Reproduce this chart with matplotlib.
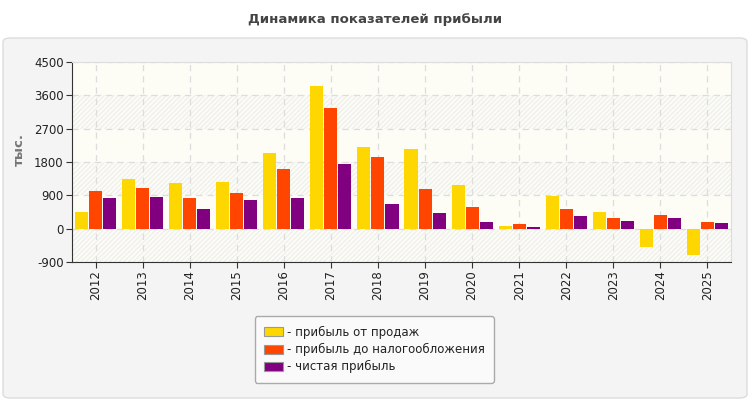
import matplotlib.pyplot as plt
from matplotlib.patches import FancyBboxPatch, Rectangle
import numpy as np

years = ['2012', '2013', '2014', '2015', '2016', '2017', '2018',
         '2019', '2020', '2021', '2022', '2023', '2024', '2025']
sales_profit = [450, 1345, 1235, 1260, 2045, 3860, 2210,
                2155, 1180, 70, 885, 450, -495, -710]
pretax_profit = [1020, 1100, 830, 965, 1615, 3265, 1940,
                 1075, 585, 125, 530, 290, 370, 180]
net_profit = [830, 855, 530, 775, 830, 1750, 665,
              425, 180, 45, 345, 205, 290, 155]
labels = ['- прибыль от продаж', '- прибыль до налогообложения', '- чистая прибыль']
colors = ['#FFD700', '#FF4500', '#800080']

yticks = [-900, 0, 900, 1800, 2700, 3600, 4500]

fig = plt.figure(figsize=(7.5, 4), dpi=100)

# grey panel behind the chart
panel = FancyBboxPatch((3 / 750, 2 / 400), 744 / 750, 360 / 400,
                       boxstyle='round,pad=0,rounding_size=0.01',
                       transform=fig.transFigure, facecolor='#f4f4f4',
                       edgecolor='#dcdcdc', linewidth=1, zorder=-10)
fig.patches.append(panel)

fig.text(0.5, 0.95, 'Динамика показателей прибыли', ha='center', va='center',
         fontsize=9.5, fontweight='bold', color='#444444')

ax = fig.add_axes([72 / 750, 138 / 400, 659 / 750, 200 / 400])
ax.set_facecolor('#fdfdf6')

x = np.arange(len(years))
w = 0.277
step = 0.298
# hatched bands
for lo, hi in [(2700, 3600), (900, 1800), (-900, 0)]:
    ax.add_patch(Rectangle((-0.5, lo), len(years), hi - lo, facecolor='none',
                           edgecolor='#efefef', hatch='///////', linewidth=0,
                           zorder=0))

ax.bar(x - step, sales_profit, w, color=colors[0], label=labels[0], zorder=3)
ax.bar(x, pretax_profit, w, color=colors[1], label=labels[1], zorder=3)
ax.bar(x + step, net_profit, w, color=colors[2], label=labels[2], zorder=3)

ax.set_xlim(-0.5, len(years) - 0.5)
ax.set_ylim(-900, 4500)
ax.set_yticks(yticks)
ax.set_yticklabels([str(v) for v in yticks], fontsize=8.5, color='#222222')
ax.set_xticks(x)
ax.set_xticklabels(years, rotation=90, fontsize=8.5, color='#222222')
ax.grid(True, linestyle=(0, (5, 4)), color='#dddddd', linewidth=0.9, zorder=1)
ax.set_axisbelow(True)
for s in ['top', 'right']:
    ax.spines[s].set_color('#dddddd')
for s in ['left', 'bottom']:
    ax.spines[s].set_color('#333333')
ax.tick_params(axis='both', length=4, color='#333333', pad=2)

fig.text(19 / 750, 1 - 150 / 400, 'тыс.', rotation=90, ha='center', va='center',
         fontsize=9.5, fontweight='bold', color='#777777')

leg = fig.legend(loc='center', bbox_to_anchor=(0.499, 0.126), fontsize=8.5,
                 frameon=True, fancybox=True, framealpha=1, facecolor='#fafafa',
                 edgecolor='#aaaaaa', handlelength=1.6, handleheight=0.8,
                 handletextpad=0.3, labelspacing=0.35, borderpad=0.8)
for h in leg.legend_handles:
    h.set_edgecolor('#999999')
    h.set_linewidth(0.8)
for t in leg.get_texts():
    t.set_color('#222222')

fig.savefig('out.png', dpi=100)
